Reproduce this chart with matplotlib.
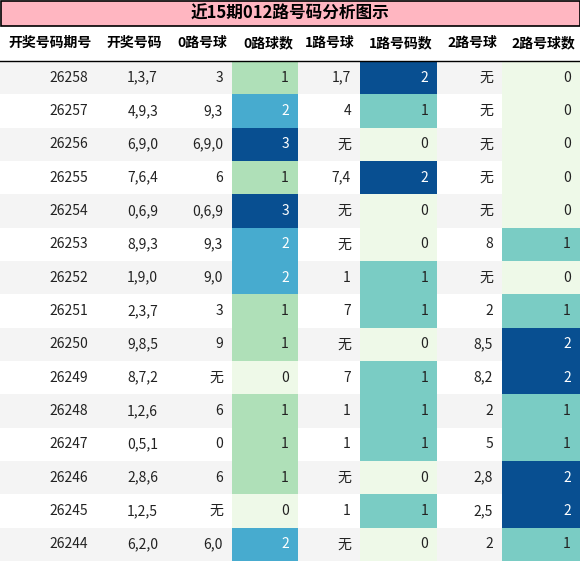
import matplotlib
matplotlib.use("Agg")
import matplotlib.pyplot as plt
from matplotlib.patches import Rectangle

plt.rcParams["font.family"] = ["Noto Sans CJK SC", "DejaVu Sans"]

TITLE = "近15期012路号码分析图示"
HEADERS = ["开奖号码期号", "开奖号码", "0路号球", "0路球数", "1路号球", "1路号码数", "2路号球", "2路号球数"]
issues = [26258, 26257, 26256, 26255, 26254, 26253, 26252, 26251, 26250, 26249,
          26248, 26247, 26246, 26245, 26244]
draws = ["1,3,7", "4,9,3", "6,9,0", "7,6,4", "0,6,9", "8,9,3", "1,9,0", "2,3,7", "9,8,5", "8,7,2",
         "1,2,6", "0,5,1", "2,8,6", "1,2,5", "6,2,0"]
road0 = ["3", "9,3", "6,9,0", "6", "0,6,9", "9,3", "9,0", "3", "9", "无", "6", "0", "6", "无", "6,0"]
road0_n = [1, 2, 3, 1, 3, 2, 2, 1, 1, 0, 1, 1, 1, 0, 2]
road1 = ["1,7", "4", "无", "7,4", "无", "无", "1", "7", "无", "7", "1", "1", "无", "1", "无"]
road1_n = [2, 1, 0, 2, 0, 0, 1, 1, 0, 1, 1, 1, 0, 1, 0]
road2 = ["无", "无", "无", "无", "无", "8", "无", "2", "8,5", "8,2", "2", "5", "2,8", "2,5", "2"]
road2_n = [0, 0, 0, 0, 0, 1, 0, 1, 2, 2, 1, 1, 2, 2, 1]

W, H = 580, 561
col_edges = [0, 97, 167, 232, 298, 360, 437, 502, 580]
title_h, head_bot = 25, 61
row_h = (H - head_bot) / len(issues)
cmap = plt.get_cmap("GnBu")

fig = plt.figure(figsize=(W / 100, H / 100), dpi=100)
ax = fig.add_axes([0, 0, 1, 1])
ax.set_xlim(0, W)
ax.set_ylim(H, 0)
ax.axis("off")

ax.add_patch(Rectangle((0.5, 0.5), W - 1, title_h, facecolor="#ffb6c1", edgecolor="black", lw=1.2))
ax.text(W / 2, title_h / 2 + 1, TITLE, ha="center", va="center", fontsize=12, fontweight="bold")
for i, h in enumerate(HEADERS):
    ax.text(col_edges[i + 1] - 5, (title_h + head_bot) / 2, h, ha="right", va="center",
            fontsize=10, fontweight="bold")
ax.plot([0, W], [head_bot, head_bot], color="black", lw=1)

cols = [issues, draws, road0, road0_n, road1, road1_n, road2, road2_n]
heat = {3: road0_n, 5: road1_n, 7: road2_n}
for r in range(len(issues)):
    y0 = head_bot + r * row_h
    bg = "#f4f4f4" if r % 2 == 0 else "white"
    ax.add_patch(Rectangle((0, y0), W, row_h, facecolor=bg, edgecolor="none"))
    for c, vals in enumerate(cols):
        color = "#222222"
        if c in heat:
            mx = max(heat[c])
            frac = vals[r] / mx
            fc = cmap(0.05 + 0.9 * frac)
            ax.add_patch(Rectangle((col_edges[c], y0), col_edges[c + 1] - col_edges[c], row_h,
                                   facecolor=fc, edgecolor="none"))
            if frac > 0.6:
                color = "white"
        ax.text(col_edges[c + 1] - 9, y0 + row_h / 2, str(vals[r]), ha="right", va="center",
                fontsize=10, color=color)

fig.savefig("out.png", dpi=100)
